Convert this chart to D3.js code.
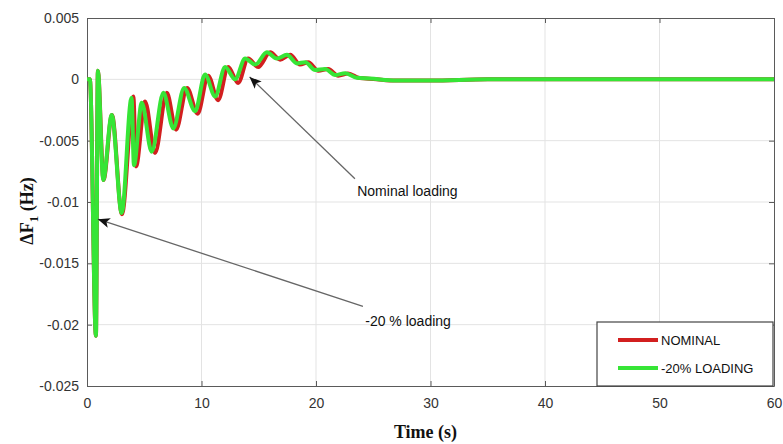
<!DOCTYPE html>
<html>
<head>
<meta charset="utf-8">
<script src="https://cdnjs.cloudflare.com/ajax/libs/d3/7.8.5/d3.min.js"></script>
<style>
  body { margin: 0; background: #fff; }
  svg { display: block; }
</style>
</head>
<body>
<div id="chart"></div>
<script>
// axis ticks
const xTicks = [0, 10, 20, 30, 40, 50, 60];
const yTicks = [-0.025, -0.02, -0.015, -0.01, -0.005, 0, 0.005];
const yTickLabels = ['-0.025', '-0.02', '-0.015', '-0.01', '-0.005', '0', '0.005'];

// series: [time (s), dF1 (Hz)]
const nominal = [
    [0, 0], [0.25, 0], [0.78, -0.0209], [0.95, 0.0007], [1.44, -0.0082], [2.18, -0.0029],
    [3.05, -0.011], [4.05, -0.0014], [4.28, -0.0071], [5.07, -0.0018], [5.94, -0.006],
    [6.97, -0.0011], [7.78, -0.0041], [8.74, -0.0007], [9.66, -0.0028], [10.58, 0.0003],
    [11.45, -0.0017], [12.33, 0.001], [13.2, -0.0003], [14.07, 0.0017], [14.95, 0.001],
    [16.0, 0.0022], [16.87, 0.0016], [17.75, 0.002], [18.6, 0.0012], [19.32, 0.0014],
    [20.2, 0.0007], [21.07, 0.00084], [21.94, 0.0003], [22.8, 0.00047], [23.8, 0.0001],
    [25, 0.00003], [27, -0.0001], [30, -0.0001], [35, 0], [60, 0]
];
const loading20 = [
    [0, 0], [0.25, 0], [0.78, -0.0209], [0.95, 0.0007], [1.42, -0.0082], [2.16, -0.0029],
    [3.03, -0.0109], [3.89, -0.0015], [4.1, -0.007], [4.78, -0.0019], [5.65, -0.0059],
    [6.67, -0.0011], [7.54, -0.004], [8.48, -0.0007], [9.44, -0.0026], [10.31, 0.0004],
    [11.19, -0.0014], [12.06, 0.001], [12.94, 0], [13.81, 0.0017], [14.69, 0.0012],
    [15.71, 0.0022], [16.58, 0.0017], [17.46, 0.002], [18.33, 0.0013], [19.06, 0.0014],
    [19.93, 0.00076], [20.8, 0.00084], [21.68, 0.00035], [22.55, 0.0005], [23.57, 0.00013],
    [24.7, 0.00007], [27, -0.0001], [30, -0.0001], [35, 0], [60, 0]
];

const seriesNames = ['NOMINAL', '-20% LOADING'];
const seriesColors = ['#d21f1f', '#36e536'];

// annotations: text anchor and arrow [tail, head] in data units
const annotations = [
    { text: 'Nominal loading', at: [23.6, -0.0091], tail: [23.4, -0.0081], head: [14.2, 0.0002] },
    { text: '-20 % loading', at: [24.3, -0.0197], tail: [24.1, -0.0185], head: [0.95, -0.0114] }
];

const width = 783, height = 444;
const margin = { top: 18, right: 9, bottom: 58, left: 87 };
const innerW = width - margin.left - margin.right;
const innerH = height - margin.top - margin.bottom;

const svg = d3.select('#chart').append('svg')
    .attr('width', width)
    .attr('height', height);

const defs = svg.append('defs');
defs.append('clipPath').attr('id', 'plot-clip')
    .append('rect').attr('width', innerW).attr('height', innerH);

defs.append('marker')
    .attr('id', 'arrowhead')
    .attr('viewBox', '0 0 12 10')
    .attr('refX', 12).attr('refY', 5)
    .attr('markerWidth', 12).attr('markerHeight', 10)
    .attr('markerUnits', 'userSpaceOnUse')
    .attr('orient', 'auto')
    .append('path')
    .attr('d', 'M0,0 L12,5 L0,10 L3,5 Z')
    .attr('fill', '#111');

const g = svg.append('g').attr('transform', `translate(${margin.left},${margin.top})`);

const x = d3.scaleLinear().domain([0, 60]).range([0, innerW]);
const y = d3.scaleLinear().domain([-0.025, 0.005]).range([innerH, 0]);

// grid
g.append('g').selectAll('line.vgrid')
    .data(xTicks.slice(1, -1))
    .join('line')
    .attr('x1', d => x(d)).attr('x2', d => x(d))
    .attr('y1', 0).attr('y2', innerH)
    .attr('stroke', '#e3e3e3').attr('stroke-width', 1);
g.append('g').selectAll('line.hgrid')
    .data(yTicks.slice(1, -1))
    .join('line')
    .attr('x1', 0).attr('x2', innerW)
    .attr('y1', d => y(d)).attr('y2', d => y(d))
    .attr('stroke', '#e3e3e3').attr('stroke-width', 1);

// axes, matlab style: ticks inward, box all round
const xAxis = g.append('g')
    .attr('transform', `translate(0,${innerH})`)
    .call(d3.axisBottom(x).tickValues(xTicks).tickSizeInner(-5).tickSizeOuter(0).tickPadding(12));
const yAxis = g.append('g')
    .call(d3.axisLeft(y).tickValues(yTicks).tickSizeInner(-5).tickSizeOuter(0).tickPadding(8)
        .tickFormat((d, i) => yTickLabels[i]));
g.append('g')
    .call(d3.axisTop(x).tickValues(xTicks).tickSizeInner(-5).tickSizeOuter(0).tickFormat(''));
g.append('g')
    .attr('transform', `translate(${innerW},0)`)
    .call(d3.axisRight(y).tickValues(yTicks).tickSizeInner(-5).tickSizeOuter(0).tickFormat(''));

g.selectAll('.domain, .tick line').attr('stroke', '#5a5a5a');
g.selectAll('.tick text')
    .attr('fill', '#333')
    .style('font-family', '"Liberation Sans", Arial, sans-serif')
    .style('font-size', '14px');

// lines
const line = d3.line()
    .x(d => x(d[0]))
    .y(d => y(d[1]))
    .curve(d3.curveMonotoneX);

const plot = g.append('g').attr('clip-path', 'url(#plot-clip)');
[nominal, loading20].forEach((s, i) => {
    plot.append('path')
        .datum(s)
        .attr('fill', 'none')
        .attr('stroke', seriesColors[i])
        .attr('stroke-width', 4)
        .attr('stroke-linejoin', 'round')
        .attr('d', line);
});

// annotations
annotations.forEach(a => {
    g.append('line')
        .attr('x1', x(a.tail[0])).attr('y1', y(a.tail[1]))
        .attr('x2', x(a.head[0])).attr('y2', y(a.head[1]))
        .attr('stroke', '#666')
        .attr('stroke-width', 1.3)
        .attr('marker-end', 'url(#arrowhead)');
    g.append('text')
        .attr('x', x(a.at[0])).attr('y', y(a.at[1]))
        .attr('dy', '0.35em')
        .attr('fill', '#111')
        .style('font-family', '"Liberation Sans", Arial, sans-serif')
        .style('font-size', '14px')
        .text(a.text);
});

// legend
const legend = g.append('g').attr('transform', `translate(${innerW - 177},${innerH - 64})`);
legend.append('rect')
    .attr('width', 176).attr('height', 64)
    .attr('fill', '#fff')
    .attr('stroke', '#444')
    .attr('stroke-width', 1.2);
seriesNames.forEach((name, i) => {
    const ly = 18 + i * 28;
    legend.append('line')
        .attr('x1', 21).attr('x2', 61)
        .attr('y1', ly).attr('y2', ly)
        .attr('stroke', seriesColors[i])
        .attr('stroke-width', 4);
    legend.append('text')
        .attr('x', 64).attr('y', ly)
        .attr('dy', '0.35em')
        .attr('fill', '#111')
        .style('font-family', '"Liberation Sans", Arial, sans-serif')
        .style('font-size', '13px')
        .text(name);
});

// axis titles
svg.append('text')
    .attr('x', margin.left + innerW / 2 - 5)
    .attr('y', 438)
    .attr('text-anchor', 'middle')
    .attr('fill', '#111')
    .style('font-family', '"Liberation Serif", "Times New Roman", serif')
    .style('font-size', '18px')
    .style('font-weight', 'bold')
    .text('Time (s)');

const yTitle = svg.append('text')
    .attr('transform', 'translate(33,211) rotate(-90)')
    .attr('text-anchor', 'middle')
    .attr('fill', '#111')
    .style('font-family', '"Liberation Serif", "Times New Roman", serif')
    .style('font-size', '18px')
    .style('font-weight', 'bold');
yTitle.append('tspan').text('ΔF');
yTitle.append('tspan').attr('dy', 5).style('font-size', '13px').text('1');
yTitle.append('tspan').attr('dy', -5).text(' (Hz)');
</script>
</body>
</html>
